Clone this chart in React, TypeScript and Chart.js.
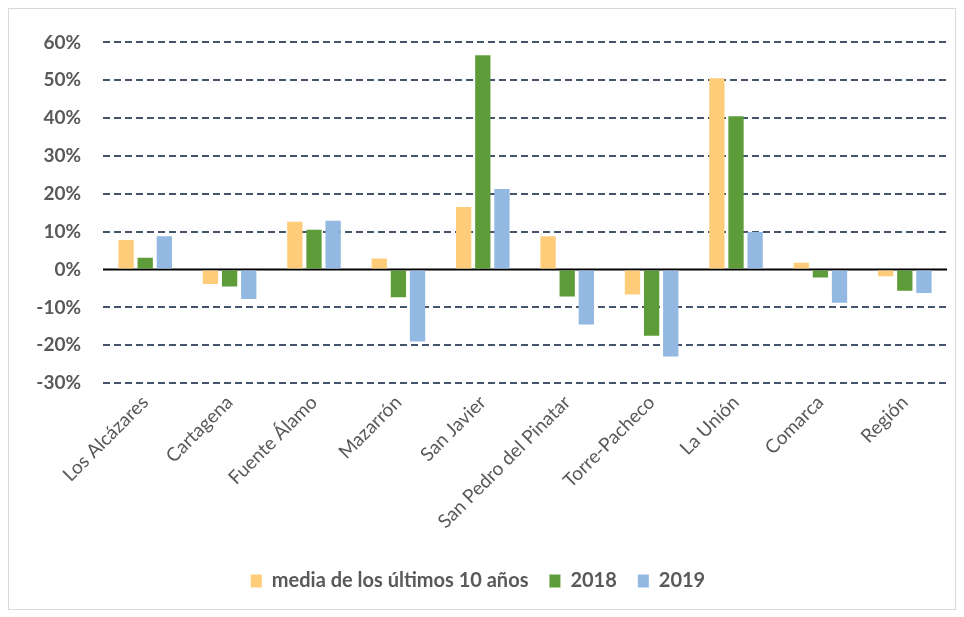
import React, { useEffect, useRef } from "react";
import { Chart, registerables } from "chart.js";

Chart.register(...registerables);

const categories = [
  "Los Alcázares",
  "Cartagena",
  "Fuente Álamo",
  "Mazarrón",
  "San Javier",
  "San Pedro del Pinatar",
  "Torre-Pacheco",
  "La Unión",
  "Comarca",
  "Región",
];
const media10 = [7.8, -3.8, 12.6, 2.9, 16.5, 8.8, -6.6, 50.5, 1.8, -1.8];
const y2018 = [3.1, -4.5, 10.5, -7.3, 56.6, -7.1, -17.5, 40.5, -2.1, -5.6];
const y2019 = [8.8, -7.8, 12.9, -19.0, 21.3, -14.5, -23.0, 9.9, -8.8, -6.2];
const seriesNames = ["media de los últimos 10 años", "2018", "2019"];
const yMin = -30;
const yMax = 60;
const yStep = 10;

const FONT = "Lato, 'Open Sans', sans-serif";

const zeroLine = {
  id: "zeroLine",
  beforeDatasetsDraw(chart: any) {
    const { ctx, chartArea, scales } = chart;
    const y = scales.y.getPixelForValue(0);
    ctx.save();
    ctx.strokeStyle = "#000000";
    ctx.lineWidth = 2;
    ctx.beginPath();
    ctx.moveTo(chartArea.left, y);
    ctx.lineTo(chartArea.right, y);
    ctx.stroke();
    ctx.restore();
  },
};

export default function App() {
  const ref = useRef<HTMLCanvasElement | null>(null);
  useEffect(() => {
    if (!ref.current) return;
    const chart = new Chart(ref.current, {
      type: "bar",
      data: {
        labels: categories,
        datasets: [
          { label: seriesNames[0], data: media10, backgroundColor: "#FFCC7A" },
          { label: seriesNames[1], data: y2018, backgroundColor: "#5E9C3A" },
          { label: seriesNames[2], data: y2019, backgroundColor: "#93B8E2" },
        ],
      },
      options: {
        animation: false,
        responsive: false,
        maintainAspectRatio: false,
        layout: { padding: { left: 0, right: 8, top: 22, bottom: 8 } },
        datasets: {
          bar: { categoryPercentage: 0.68, barPercentage: 0.8 },
        },
        plugins: {
          tooltip: { enabled: false },
          legend: {
            position: "bottom",
            labels: {
              boxWidth: 11,
              boxHeight: 13,
              padding: 21,
              color: "#595959",
              font: { family: FONT, size: 20, weight: "bold" },
            },
          },
        },
        scales: {
          x: {
            afterFit: (s: any) => {
              s.height += 9;
            },
            grid: { display: false, drawTicks: false },
            border: { display: false },
            ticks: {
              maxRotation: 45,
              minRotation: 45,
              color: "#595959",
              padding: 8,
              font: { family: FONT, size: 19 },
            },
          },
          y: {
            min: yMin,
            max: yMax,
            afterFit: (s: any) => {
              s.width = 94;
            },
            ticks: {
              stepSize: yStep,
              color: "#595959",
              padding: 22,
              font: { family: FONT, size: 19, weight: "bold" },
              callback: (v: any) => `${v}%`,
            },
            grid: {
              drawTicks: false,
              color: (c: any) => (c.tick && c.tick.value === 0 ? "rgba(0,0,0,0)" : "#44546A"),
              lineWidth: 2,
            },
            border: { display: false, dash: [7, 4] },
          },
        },
      },
      plugins: [zeroLine],
    });
    return () => chart.destroy();
  }, []);
  return (
    <div
      style={{
        width: 946,
        height: 600,
        border: "1px solid #d9d9d9",
        background: "#ffffff",
      }}
    >
      <canvas ref={ref} width={946} height={600} />
    </div>
  );
}
